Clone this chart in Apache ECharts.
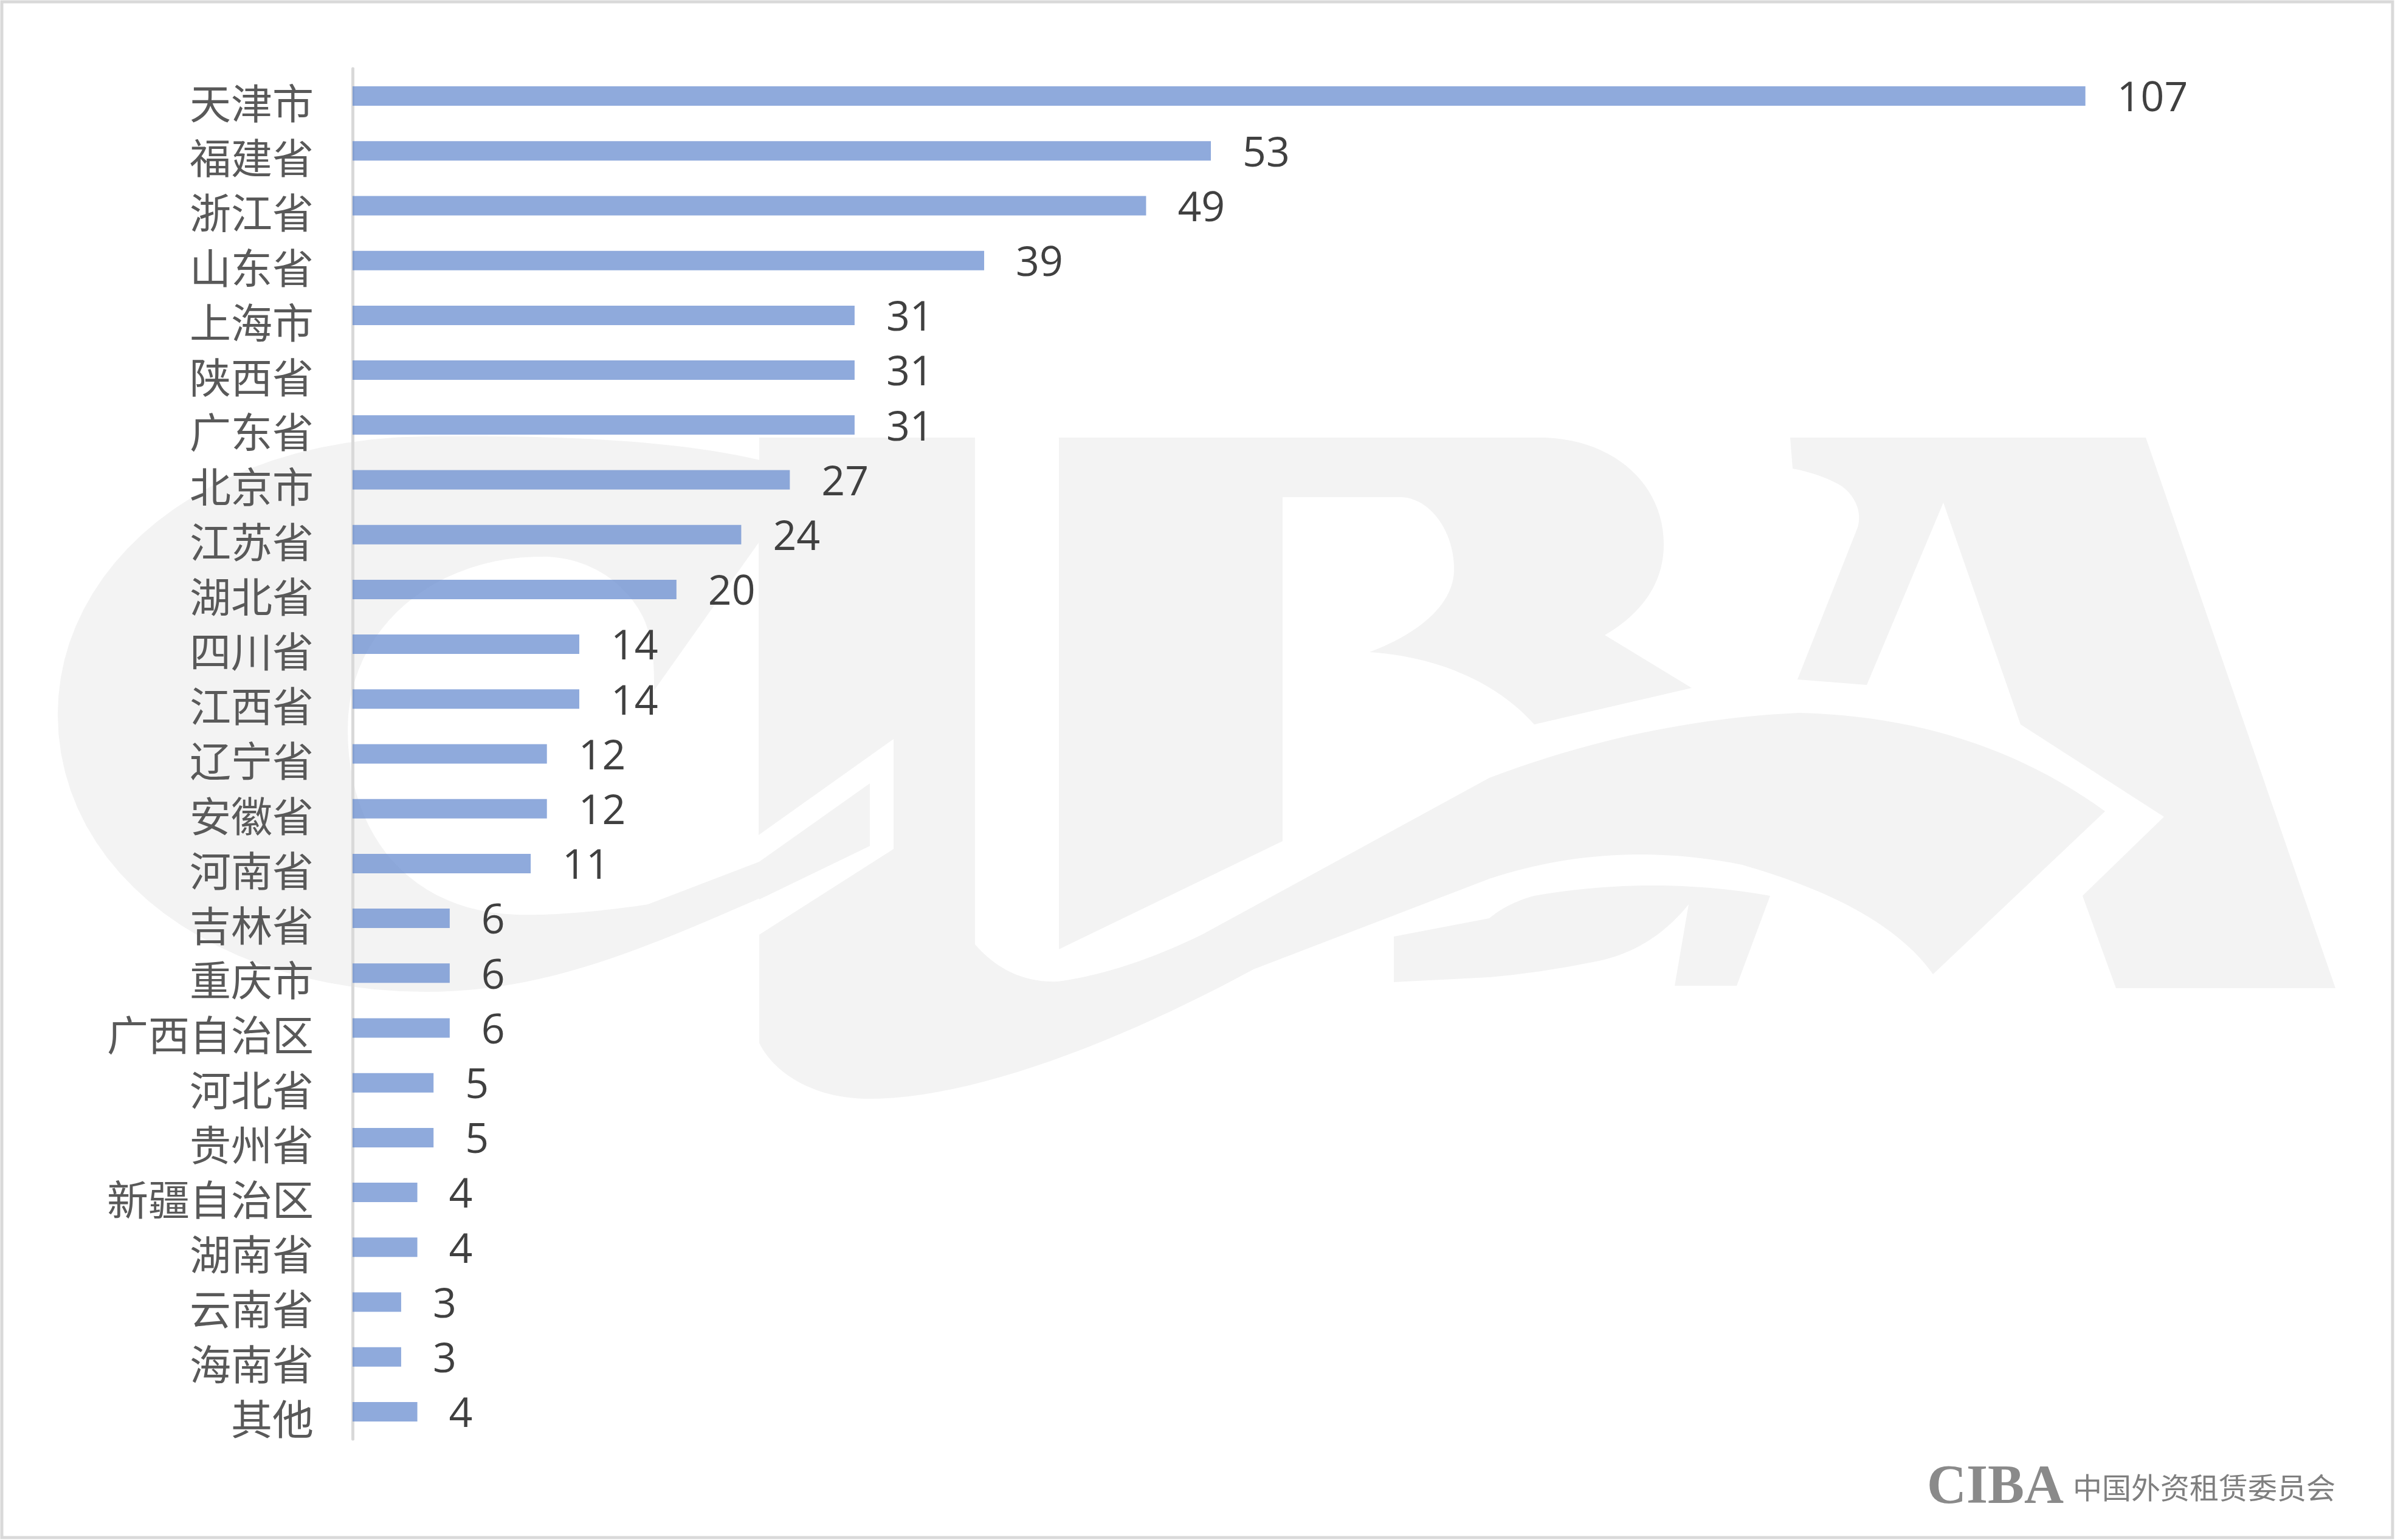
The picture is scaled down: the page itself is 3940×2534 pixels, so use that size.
<!DOCTYPE html>
<html>
<head>
<meta charset="utf-8">
<script src="https://cdn.jsdelivr.net/npm/echarts@6/dist/echarts.min.js"></script>
<style>
html,body{margin:0;padding:0;background:#fff;}
#main{width:3940px;height:2534px;}
</style>
</head>
<body>
<div id="main"></div>
<script>
// ---- data ----
var categories = ['天津市','福建省','浙江省','山东省','上海市','陕西省','广东省','北京市','江苏省','湖北省','四川省','江西省','辽宁省','安徽省','河南省','吉林省','重庆市','广西自治区','河北省','贵州省','新疆自治区','湖南省','云南省','海南省','其他'];
var values = [107,53,49,39,31,31,31,27,24,20,14,14,12,12,11,6,6,6,5,5,4,4,3,3,4];
var footerText = '中国外资租赁委员会';
var logoText = 'CIBA';

// ---- watermark outline helper (decorative background logo) ----
function pathToPoints(d){
  var toks = d.match(/[MLCQZ]|-?\d+(\.\d+)?/g);
  var pts = [], i = 0, cx = 0, cy = 0, cmd = null;
  function num(){ return parseFloat(toks[i++]); }
  while(i < toks.length){
    var t = toks[i];
    if(/[MLCQZ]/.test(t)){ cmd = t; i++; if(cmd==='Z') continue; }
    if(cmd==='M' || cmd==='L'){ cx = num(); cy = num(); pts.push([cx,cy]); }
    else if(cmd==='C'){
      var x1=num(),y1=num(),x2=num(),y2=num(),x=num(),y=num();
      for(var k=1;k<=24;k++){var s=k/24,u=1-s;
        pts.push([u*u*u*cx+3*u*u*s*x1+3*u*s*s*x2+s*s*s*x, u*u*u*cy+3*u*u*s*y1+3*u*s*s*y2+s*s*s*y]);}
      cx=x;cy=y;
    } else if(cmd==='Q'){
      var qx=num(),qy=num(),x=num(),y=num();
      for(var k=1;k<=24;k++){var s=k/24,u=1-s;
        pts.push([u*u*cx+2*u*s*qx+s*s*x, u*u*cy+2*u*s*qy+s*s*y]);}
      cx=x;cy=y;
    } else { i++; }
  }
  return pts;
}
var GRAY = '#f3f3f3', WHITE = '#ffffff';
var wm = [
  // C outer
  [GRAY, 'M 1250 757 C 1100 722 900 716 700 718 C 330 722 95 935 95 1175 C 95 1440 360 1632 700 1632 C 900 1632 1060 1560 1250 1478 Z'],
  // I + big swoosh
  [GRAY, 'M 1249 720 L 1604 720 L 1604 1554 Q 1660 1618 1740 1615 Q 1850 1600 1979 1537 L 2450 1280 Q 2700 1185 2959 1173 Q 3250 1180 3463 1335 L 3180 1603 Q 3100 1490 2866 1423 Q 2650 1380 2450 1446 L 2062 1595 C 1850 1710 1600 1810 1424 1808 C 1330 1806 1270 1760 1249 1716 Z'],
  // C hole + cut through I
  [WHITE, 'M 572 1200 C 572 1030 720 912 900 916 C 983 920 1037 970 1060 1020 C 1076 1060 1076 1100 1076 1136 L 1248 893 L 1248 1374 L 1470 1216 L 1470 1397 L 1249 1538 L 1249 1418 L 1066 1488 C 990 1500 900 1507 850 1505 C 680 1500 572 1380 572 1200 Z'],
  // band crossing I
  [GRAY, 'M 1249 1418 L 1431 1289 L 1431 1392 L 1249 1480 Z'],
  // B stem
  [GRAY, 'M 1742 720 L 2110 720 L 2110 1384 L 1742 1562 Z'],
  // B bowl and leg
  [GRAY, 'M 2110 720 L 2542 720 C 2660 725 2737 800 2737 896 C 2737 960 2700 1010 2640 1045 L 2783 1132 L 2524 1192 C 2460 1120 2360 1080 2253 1073 C 2340 1040 2395 990 2392 932 C 2390 870 2350 818 2303 818 L 2110 818 Z'],
  // A
  [GRAY, 'M 2945 720 L 3530 720 L 3842 1626 L 3481 1626 L 3426 1474 L 3560 1344 L 3324 1192 L 3197 827 L 3071 1127 L 2957 1118 L 3056 868 C 3064 840 3050 815 3030 800 C 3005 785 2975 776 2949 771 Z'],
  // lower band to A foot
  [GRAY, 'M 2293 1541 L 2450 1511 Q 2480 1486 2524 1474 Q 2720 1440 2912 1474 L 2857 1622 L 2755 1622 L 2778 1488 Q 2720 1560 2635 1580 Q 2540 1600 2450 1608 L 2293 1616 Z']
];
var graphics = wm.map(function(w){
  return { type:'polygon', z:-10, silent:true, shape:{ points: pathToPoints(w[1]) }, style:{ fill:w[0], stroke:null } };
});
graphics.push({ type:'rect', z:100, silent:true, shape:{x:3,y:3,width:3933,height:2527}, style:{fill:'none', stroke:'#d9d9d9', lineWidth:5} });
graphics.push({ type:'text', z:100, silent:true, style:{ text: logoText, x:3170, y:2450, font:'bold 90px "Liberation Serif"', fill:'#8a8a8a', align:'left', verticalAlign:'middle' } });
graphics.push({ type:'text', z:100, silent:true, style:{ text: footerText, x:3410, y:2448, font:'48px "Noto Sans CJK SC"', fill:'#7f7f7f', align:'left', verticalAlign:'middle' } });

var chart = echarts.init(document.getElementById('main'), null, {renderer:'canvas'});
chart.setOption({
  animation:false,
  backgroundColor:'#ffffff',
  graphic: graphics,
  grid:{ left:580, right:163, top:113, bottom:166, containLabel:false },
  xAxis:{ type:'value', min:0, max:120, show:false, splitLine:{show:false} },
  yAxis:{
    type:'category', data:categories, inverse:true,
    axisLine:{ show:true, lineStyle:{ color:'#d9d9d9', width:5 } },
    axisTick:{ show:false },
    axisLabel:{ margin:64, color:'#595959', fontSize:68, fontFamily:'"Noto Sans CJK SC"', verticalAlign:'top', lineHeight:24 },
    splitLine:{ show:false }
  },
  series:[{
    type:'bar', data:values, barWidth:32,
    itemStyle:{ color:'rgba(95,134,205,0.7)' },
    label:{ show:true, position:'right', distance:52, color:'#404040', fontSize:68, fontFamily:'"Open Sans"', verticalAlign:'top', lineHeight:12 }
  }]
});
</script>
</body>
</html>
